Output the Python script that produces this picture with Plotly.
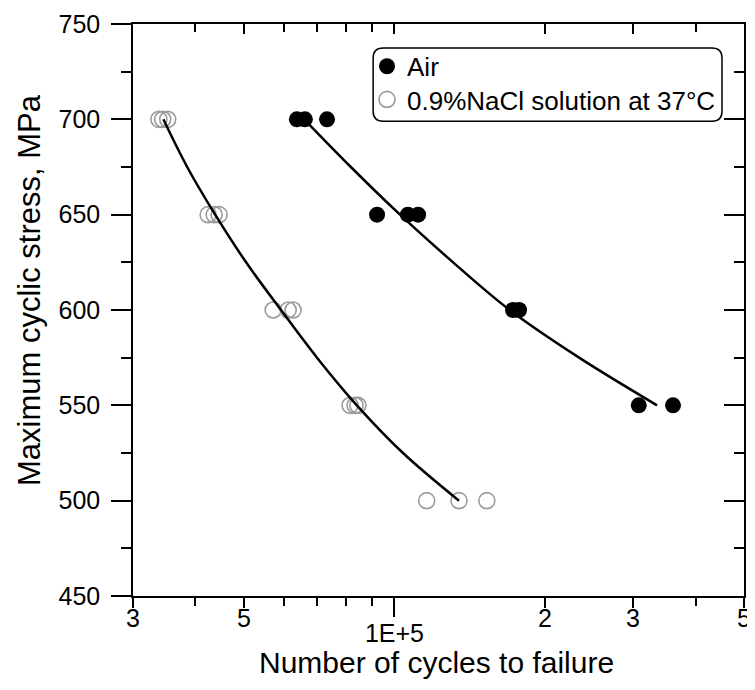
import plotly.graph_objects as go
import math

# ---- data ----
air_cycles = [63800, 66200, 73300, 92300, 106400, 111500, 172600, 177500, 308000, 360600]
air_stress = [700, 700, 700, 650, 650, 650, 600, 600, 550, 550]

nacl_cycles = [33800, 34400, 35200, 42400, 43600, 44600, 57200, 61300, 62700,
               81500, 83400, 84500, 116000, 134600, 153000]
nacl_stress = [700, 700, 700, 650, 650, 650, 600, 600, 600,
               550, 550, 550, 500, 500, 500]

# fitted curves
air_fit_cycles = [66000, 81800, 102600, 131000, 170000, 234000, 335000]
air_fit_stress = [700, 675, 650, 625, 600, 575, 550]

nacl_fit_cycles = [34500, 38500, 43800, 50500, 59300, 70000, 84100, 104000, 134600]
nacl_fit_stress = [700, 675, 650, 625, 600, 575, 550, 525, 500]

x_major_vals = [3e4, 5e4, 2e5, 3e5, 5e5]
x_major_text = ["3", "5", "2", "3", "5"]
x_decade_vals = [1e5]
x_decade_text = ["1E+5"]
x_minor_vals = [4e4, 6e4, 7e4, 8e4, 9e4, 4e5]

y_ticks = [450, 500, 550, 600, 650, 700, 750]

x_title = "Number of cycles to failure"
y_title = "Maximum cyclic stress, MPa"

FONT = "Liberation Sans, Arial, sans-serif"
TICKF = dict(family=FONT, size=25, color="black")

fig = go.Figure()

fig.add_trace(go.Scatter(x=air_cycles, y=air_stress, mode="markers", name="Air",
                         xaxis="x", yaxis="y", legend="legend",
                         marker=dict(symbol="circle", size=16, color="black",
                                     line=dict(width=0))))
fig.add_trace(go.Scatter(x=nacl_cycles, y=nacl_stress, mode="markers",
                         name="0.9%NaCl solution at 37°C",
                         xaxis="x", yaxis="y2", legend="legend2",
                         marker=dict(symbol="circle-open", size=16, color="#9a9a9a",
                                     line=dict(width=1.6))))
fig.add_trace(go.Scatter(x=air_fit_cycles, y=air_fit_stress, mode="lines",
                         xaxis="x2", yaxis="y",
                         line=dict(color="black", width=2.5, shape="spline"),
                         showlegend=False, hoverinfo="skip"))
fig.add_trace(go.Scatter(x=nacl_fit_cycles, y=nacl_fit_stress, mode="lines",
                         xaxis="x3", yaxis="y",
                         line=dict(color="black", width=2.5, shape="spline"),
                         showlegend=False, hoverinfo="skip"))

xr = [math.log10(3e4), math.log10(5e5)]
yr = [450, 750]

legend_common = dict(xanchor="left", yanchor="middle", bgcolor="rgba(0,0,0,0)",
                     borderwidth=0, font=dict(family=FONT, size=26),
                     itemsizing="trace")

fig.update_layout(
    width=747, height=682,
    margin=dict(l=125, r=11, t=16, b=94),
    paper_bgcolor="white", plot_bgcolor="white",
    font=dict(family=FONT, size=25, color="black"),
    xaxis=dict(type="log", range=xr, tickmode="array", automargin=False,
               tickvals=x_major_vals, ticktext=x_major_text, tickfont=TICKF,
               ticks="outside", ticklen=10, tickwidth=1.5, tickcolor="black",
               ticklabelstandoff=-11,
               minor=dict(tickmode="array", tickvals=x_minor_vals, ticks="outside",
                          ticklen=8, tickwidth=1.5, tickcolor="black"),
               showline=True, linecolor="black", linewidth=1.5,
               showgrid=False, zeroline=False),
    xaxis3=dict(type="log", range=xr, overlaying="x", anchor="y", side="bottom",
                automargin=False,
                tickmode="array", tickvals=x_decade_vals, ticktext=x_decade_text,
                tickfont=TICKF, ticklabelstandoff=-5,
                ticks="outside", ticklen=20, tickwidth=1.5, tickcolor="black",
                showline=False, showgrid=False, zeroline=False),
    xaxis2=dict(type="log", range=xr, overlaying="x", anchor="y", side="top",
                automargin=False,
                tickmode="array", tickvals=x_major_vals + x_decade_vals,
                showticklabels=False,
                ticks="inside", ticklen=10, tickwidth=1.5, tickcolor="black",
                minor=dict(tickmode="array", tickvals=x_minor_vals, ticks="inside",
                           ticklen=8, tickwidth=1.5, tickcolor="black"),
                showline=True, linecolor="black", linewidth=1.5,
                showgrid=False, zeroline=False),
    yaxis=dict(range=yr, tickmode="array", tickvals=y_ticks, automargin=False,
               tickfont=TICKF, ticklabelstandoff=6,
               ticks="outside", ticklen=20, tickwidth=1.5, tickcolor="black",
               minor=dict(dtick=25, ticks="outside", ticklen=10, tickwidth=1.5,
                          tickcolor="black"),
               showline=True, linecolor="black", linewidth=1.5,
               showgrid=False, zeroline=False),
    yaxis2=dict(range=yr, overlaying="y", anchor="x", side="right",
                automargin=False,
                tickmode="array", tickvals=y_ticks, showticklabels=False,
                ticks="inside", ticklen=20, tickwidth=1.5, tickcolor="black",
                minor=dict(dtick=25, ticks="inside", ticklen=10, tickwidth=1.5,
                           tickcolor="black"),
                showline=True, linecolor="black", linewidth=1.5,
                showgrid=False, zeroline=False),
    legend=dict(x=0.383, y=0.926, **legend_common),
    legend2=dict(x=0.383, y=0.868, **legend_common),
    showlegend=True,
)

fig.add_annotation(text=x_title, xref="paper", yref="paper", x=0.496, y=-0.117,
                   xanchor="center", yanchor="middle", showarrow=False,
                   font=dict(family=FONT, size=30, color="black"))
fig.add_annotation(text=y_title, xref="paper", yref="paper", x=-0.1686, y=0.535,
                   xanchor="center", yanchor="middle", showarrow=False,
                   textangle=-90,
                   font=dict(family=FONT, size=31, color="black"))

# rounded legend frame
x0, x1, y0, y1 = 0.393, 0.964, 0.830, 0.958
rx, ry = 0.0164, 0.0175
path = (f"M {x0+rx},{y1} L {x1-rx},{y1} Q {x1},{y1} {x1},{y1-ry} "
        f"L {x1},{y0+ry} Q {x1},{y0} {x1-rx},{y0} L {x0+rx},{y0} "
        f"Q {x0},{y0} {x0},{y0+ry} L {x0},{y1-ry} Q {x0},{y1} {x0+rx},{y1} Z")
fig.add_shape(type="path", path=path, xref="paper", yref="paper",
              line=dict(color="black", width=1.5), fillcolor="rgba(0,0,0,0)")

fig.write_html("out.html")
